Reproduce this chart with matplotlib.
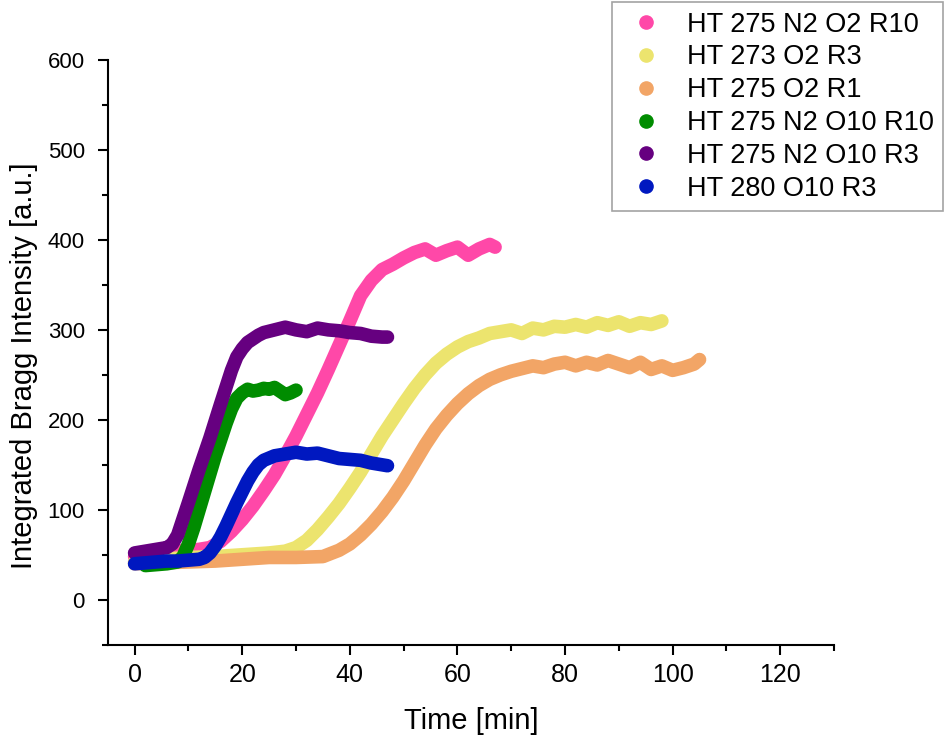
import matplotlib
matplotlib.use("Agg")
import matplotlib.pyplot as plt
from matplotlib.ticker import MultipleLocator

plt.rcParams['font.family'] = ['Liberation Sans', 'DejaVu Sans']

# Integrated Bragg intensity vs. time for each run
labels = ["HT 275 N2 O2 R10", "HT 273 O2 R3", "HT 275 O2 R1",
          "HT 275 N2 O10 R10", "HT 275 N2 O10 R3", "HT 280 O10 R3"]
colors = ["#FF48A8", "#ECE46E", "#F2A566", "#008C00", "#660080", "#0018C0"]

t_pink = [0, 4, 8, 12, 14, 16, 18, 20, 22, 24, 26, 28, 30, 32, 34, 36, 38, 40,
          42, 44, 46, 48, 50, 52, 54, 56, 58, 60, 62, 64, 66, 67]
i_pink = [48, 52, 54, 56, 58, 65, 76, 89, 104, 121, 139, 160, 182, 206, 230, 256,
          283, 310, 338, 355, 367, 373, 380, 386, 390, 383, 388, 392, 383, 390, 395, 392]

t_yellow = [0, 5, 10, 15, 20, 25, 28, 30, 32, 34, 36, 38, 40, 42, 44, 46, 48, 50,
            52, 54, 56, 58, 60, 62, 64, 66, 68, 70, 72, 74, 76, 78, 80, 82, 84, 86,
            88, 90, 92, 94, 96, 98]
i_yellow = [42, 45, 47, 48, 50, 52, 54, 58, 66, 78, 92, 107, 124, 142, 162, 182,
            200, 218, 235, 250, 263, 273, 281, 287, 291, 296, 298, 300, 296, 302,
            300, 304, 303, 306, 303, 308, 305, 309, 304, 308, 306, 310]

t_orange = [0, 5, 10, 15, 20, 25, 30, 35, 38, 40, 42, 44, 46, 48, 50, 52, 54, 56,
            58, 60, 62, 64, 66, 68, 70, 72, 74, 76, 78, 80, 82, 84, 86, 88, 90, 92,
            94, 96, 98, 100, 102, 104, 105]
i_orange = [40, 41, 42, 43, 45, 47, 47, 48, 55, 62, 72, 84, 98, 114, 132, 152, 172,
            190, 205, 218, 229, 238, 245, 250, 254, 257, 260, 258, 262, 264, 260,
            264, 261, 266, 262, 258, 264, 256, 260, 255, 258, 262, 267]

t_green = [2, 4, 6, 8, 9, 10, 11, 12, 13, 14, 15, 16, 17, 18, 19, 20, 21, 22, 23,
           24, 25, 26, 27, 28, 29, 30]
i_green = [38, 39, 40, 42, 48, 62, 80, 100, 120, 140, 160, 178, 196, 212, 224, 230,
           234, 232, 233, 235, 234, 236, 232, 228, 230, 233]

t_purple = [0, 2, 4, 6, 7, 8, 10, 12, 14, 16, 18, 19, 20, 21, 22, 23, 24, 26, 28,
            30, 32, 34, 36, 38, 40, 42, 44, 46, 47]
i_purple = [52, 54, 56, 58, 62, 72, 108, 145, 180, 218, 255, 270, 279, 286, 290,
            294, 297, 300, 303, 300, 298, 302, 300, 299, 297, 296, 293, 292, 292]

t_blue = [0, 2, 4, 6, 8, 10, 12, 13, 14, 15, 16, 17, 18, 19, 20, 21, 22, 23, 24,
          26, 28, 30, 32, 34, 36, 38, 40, 42, 44, 46, 47]
i_blue = [40, 41, 42, 43, 43, 44, 45, 47, 52, 60, 70, 82, 95, 108, 120, 132, 142,
          150, 155, 160, 162, 164, 162, 163, 160, 157, 156, 155, 152, 150, 149]

times = [t_pink, t_yellow, t_orange, t_green, t_purple, t_blue]
intens = [i_pink, i_yellow, i_orange, i_green, i_purple, i_blue]

fig = plt.figure(figsize=(9.44, 7.42), dpi=100)
ax = fig.add_axes([0.1141, 0.1311, 0.7694, 0.788])

for t, y, c, lab in zip(times, intens, colors, labels):
    # thick round line mimics the densely packed scatter points
    ax.plot(t, y, color=c, lw=9.8, solid_capstyle='round', solid_joinstyle='round')
    ax.plot([], [], 'o', color=c, ms=9.5, label=lab)

ax.set_xlim(-5, 130)
ax.set_ylim(-50, 600)
ax.xaxis.set_major_locator(MultipleLocator(20))
ax.xaxis.set_minor_locator(MultipleLocator(10))
ax.yaxis.set_major_locator(MultipleLocator(100))
ax.yaxis.set_minor_locator(MultipleLocator(50))

for s in ['top', 'right']:
    ax.spines[s].set_visible(False)
for s in ['left', 'bottom']:
    ax.spines[s].set_linewidth(1.5)

ax.tick_params(which='major', direction='out', length=7.5, width=1.5)
ax.tick_params(which='minor', direction='out', length=4, width=1.5)
ax.tick_params(axis='y', which='major', labelsize=16, pad=9)
ax.tick_params(axis='x', which='major', labelsize=18, pad=6)

ax.set_xlabel('Time [min]', fontsize=21, labelpad=14)
ax.set_ylabel('Integrated Bragg Intensity [a.u.]', fontsize=21)
ax.yaxis.set_label_coords(-0.096, 0.477)

leg = fig.legend(loc='upper right', bbox_to_anchor=(0.999, 0.997), fontsize=19.5,
                 frameon=True, fancybox=False, edgecolor='#8c8c8c',
                 labelspacing=0.25, handlelength=1.8, handletextpad=0.6,
                 borderpad=0.35, borderaxespad=0)
leg.get_frame().set_linewidth(1.2)

fig.savefig('out.png', dpi=100, facecolor='white')
